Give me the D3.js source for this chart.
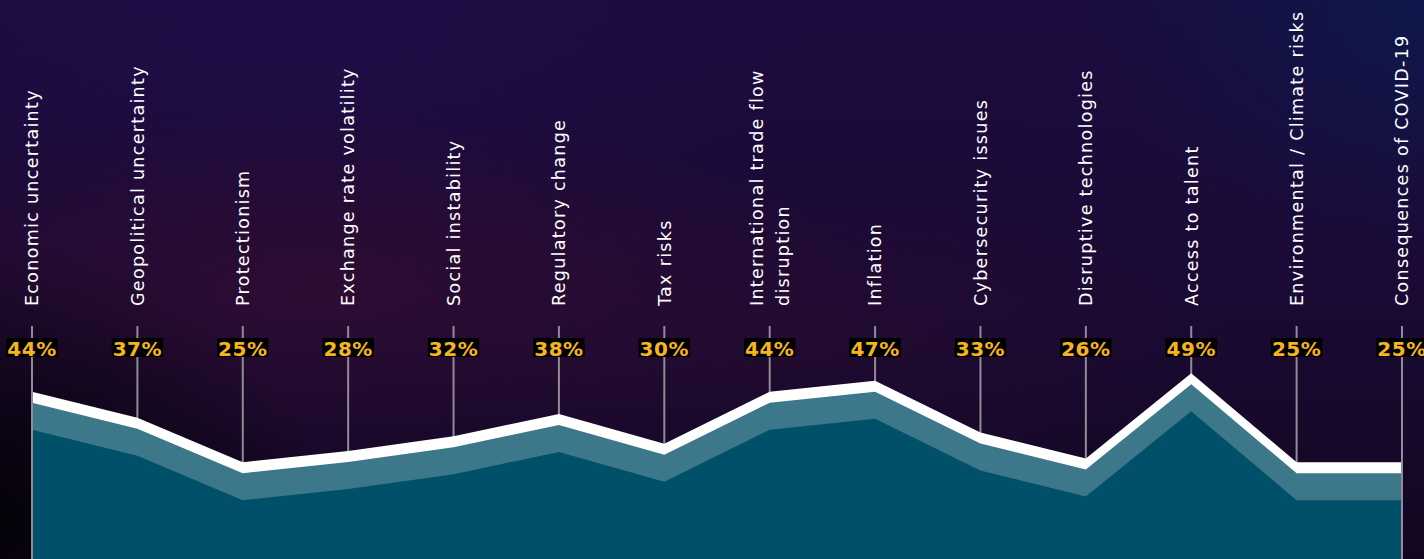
<!DOCTYPE html>
<html>
<head>
<meta charset="utf-8">
<script src="https://cdn.jsdelivr.net/npm/d3@7"></script>
<style>
  html, body { margin: 0; padding: 0; background: #14071f; overflow: hidden; }
  svg { display: block; }
</style>
</head>
<body>
<svg id="chart" width="1424" height="559"></svg>
<script>
// ---- data ----
const categories = [
  "Economic uncertainty",
  "Geopolitical uncertainty",
  "Protectionism",
  "Exchange rate volatility",
  "Social instability",
  "Regulatory change",
  "Tax risks",
  "International trade flow\ndisruption",
  "Inflation",
  "Cybersecurity issues",
  "Disruptive technologies",
  "Access to talent",
  "Environmental / Climate risks",
  "Consequences of COVID-19"
];
const values = [44, 37, 25, 28, 32, 38, 30, 44, 47, 33, 26, 49, 25, 25];
const valueLabels = values.map(v => v + "%");

// ---- layout ----
const W = 1424, H = 559;
const svg = d3.select("#chart");
const defs = svg.append("defs");

// background gradients
const lin = defs.append("linearGradient").attr("id", "bgLin")
  .attr("x1", 0).attr("y1", 0).attr("x2", 0).attr("y2", 1);
lin.append("stop").attr("offset", "0%").attr("stop-color", "#1c0b3e");
lin.append("stop").attr("offset", "55%").attr("stop-color", "#1a0a34");
lin.append("stop").attr("offset", "100%").attr("stop-color", "#13061f");

function radial(id, color, opacity) {
  const g = defs.append("radialGradient").attr("id", id);
  g.append("stop").attr("offset", "0%").attr("stop-color", color).attr("stop-opacity", opacity);
  g.append("stop").attr("offset", "100%").attr("stop-color", color).attr("stop-opacity", 0);
}
radial("glowRed", "#360d31", 0.7);
radial("glowPurple", "#230e4c", 0.6);
radial("glowDark", "#040207", 0.95);
radial("glowNavy", "#0b1a4c", 0.9);
radial("glowMid", "#2a0b30", 0.5);

svg.append("rect").attr("width", W).attr("height", H).attr("fill", "url(#bgLin)");
const glows = [
  { id: "glowPurple", cx: 300, cy: 40, rx: 520, ry: 200 },
  { id: "glowRed", cx: 320, cy: 290, rx: 560, ry: 180 },
  { id: "glowMid", cx: 820, cy: 330, rx: 420, ry: 160 },
  { id: "glowDark", cx: -20, cy: 520, rx: 340, ry: 280 },
  { id: "glowNavy", cx: 1450, cy: 0, rx: 380, ry: 260 }
];
svg.append("g").selectAll("ellipse").data(glows).join("ellipse")
  .attr("cx", d => d.cx).attr("cy", d => d.cy)
  .attr("rx", d => d.rx).attr("ry", d => d.ry)
  .attr("fill", d => `url(#${d.id})`);

// scales
const x = d3.scalePoint().domain(categories).range([32, 1402]);
const y = d3.scaleLinear().domain([0, 100]).range([555, 184]);

const data = categories.map((c, i) => ({ c, v: values[i] }));

// vertical guide lines
svg.append("g").selectAll("line").data(data).join("line")
  .attr("x1", d => x(d.c)).attr("x2", d => x(d.c))
  .attr("y1", 326).attr("y2", H)
  .attr("stroke", "#8f8c97").attr("stroke-width", 2);

// area layers
const area = d3.area()
  .x(d => x(d.c))
  .y0(H + 60)
  .y1(d => y(d.v))
  .curve(d3.curveLinear);

const layers = [
  { fill: "#ffffff", shift: 0 },
  { fill: "#3c7889", shift: 11 },
  { fill: "#01506a", shift: 38 }
];
svg.append("g").selectAll("path").data(layers).join("path")
  .attr("transform", d => `translate(0,${d.shift})`)
  .attr("d", area(data))
  .attr("fill", d => d.fill);

// edge guide lines on top (first & last stay visible along area edges)
svg.append("g").selectAll("line").data([data[0], data[data.length - 1]]).join("line")
  .attr("x1", d => x(d.c)).attr("x2", d => x(d.c))
  .attr("y1", d => y(d.v)).attr("y2", H)
  .attr("stroke", "#8f8c97").attr("stroke-width", 2);

// category labels (rotated)
const catG = svg.append("g").selectAll("g").data(data).join("g")
  .attr("transform", d => `translate(${x(d.c)},306) rotate(-90)`);
catG.each(function(d) {
  const lines = d.c.split("\n");
  const n = lines.length;
  const t = d3.select(this).append("text")
    .attr("fill", "#ffffff")
    .attr("font-family", "'DejaVu Sans', sans-serif")
    .attr("font-size", 17.5)
    .attr("letter-spacing", "1.3px")
    .attr("text-anchor", "start");
  lines.forEach((ln, i) => {
    t.append("tspan")
      .attr("x", 0)
      .attr("y", (i - (n - 1) / 2) * 27)
      .attr("dy", "0.36em")
      .text(ln);
  });
});

// value labels with black backing
const valG = svg.append("g").selectAll("g").data(data).join("g")
  .attr("transform", d => `translate(${x(d.c)},356)`);
valG.each(function(d, i) {
  const g = d3.select(this);
  const rect = g.append("rect").attr("fill", "#000000");
  const t = g.append("text")
    .attr("text-anchor", "middle")
    .attr("font-family", "'DejaVu Sans', sans-serif")
    .attr("font-weight", "bold")
    .attr("font-size", 20)
    .attr("letter-spacing", "0.5px")
    .attr("fill", "#f7b51d")
    .text(valueLabels[i]);
  const bb = t.node().getBBox();
  rect.attr("x", bb.x - 1).attr("y", -18).attr("width", bb.width + 2).attr("height", 19);
});
</script>
</body>
</html>
